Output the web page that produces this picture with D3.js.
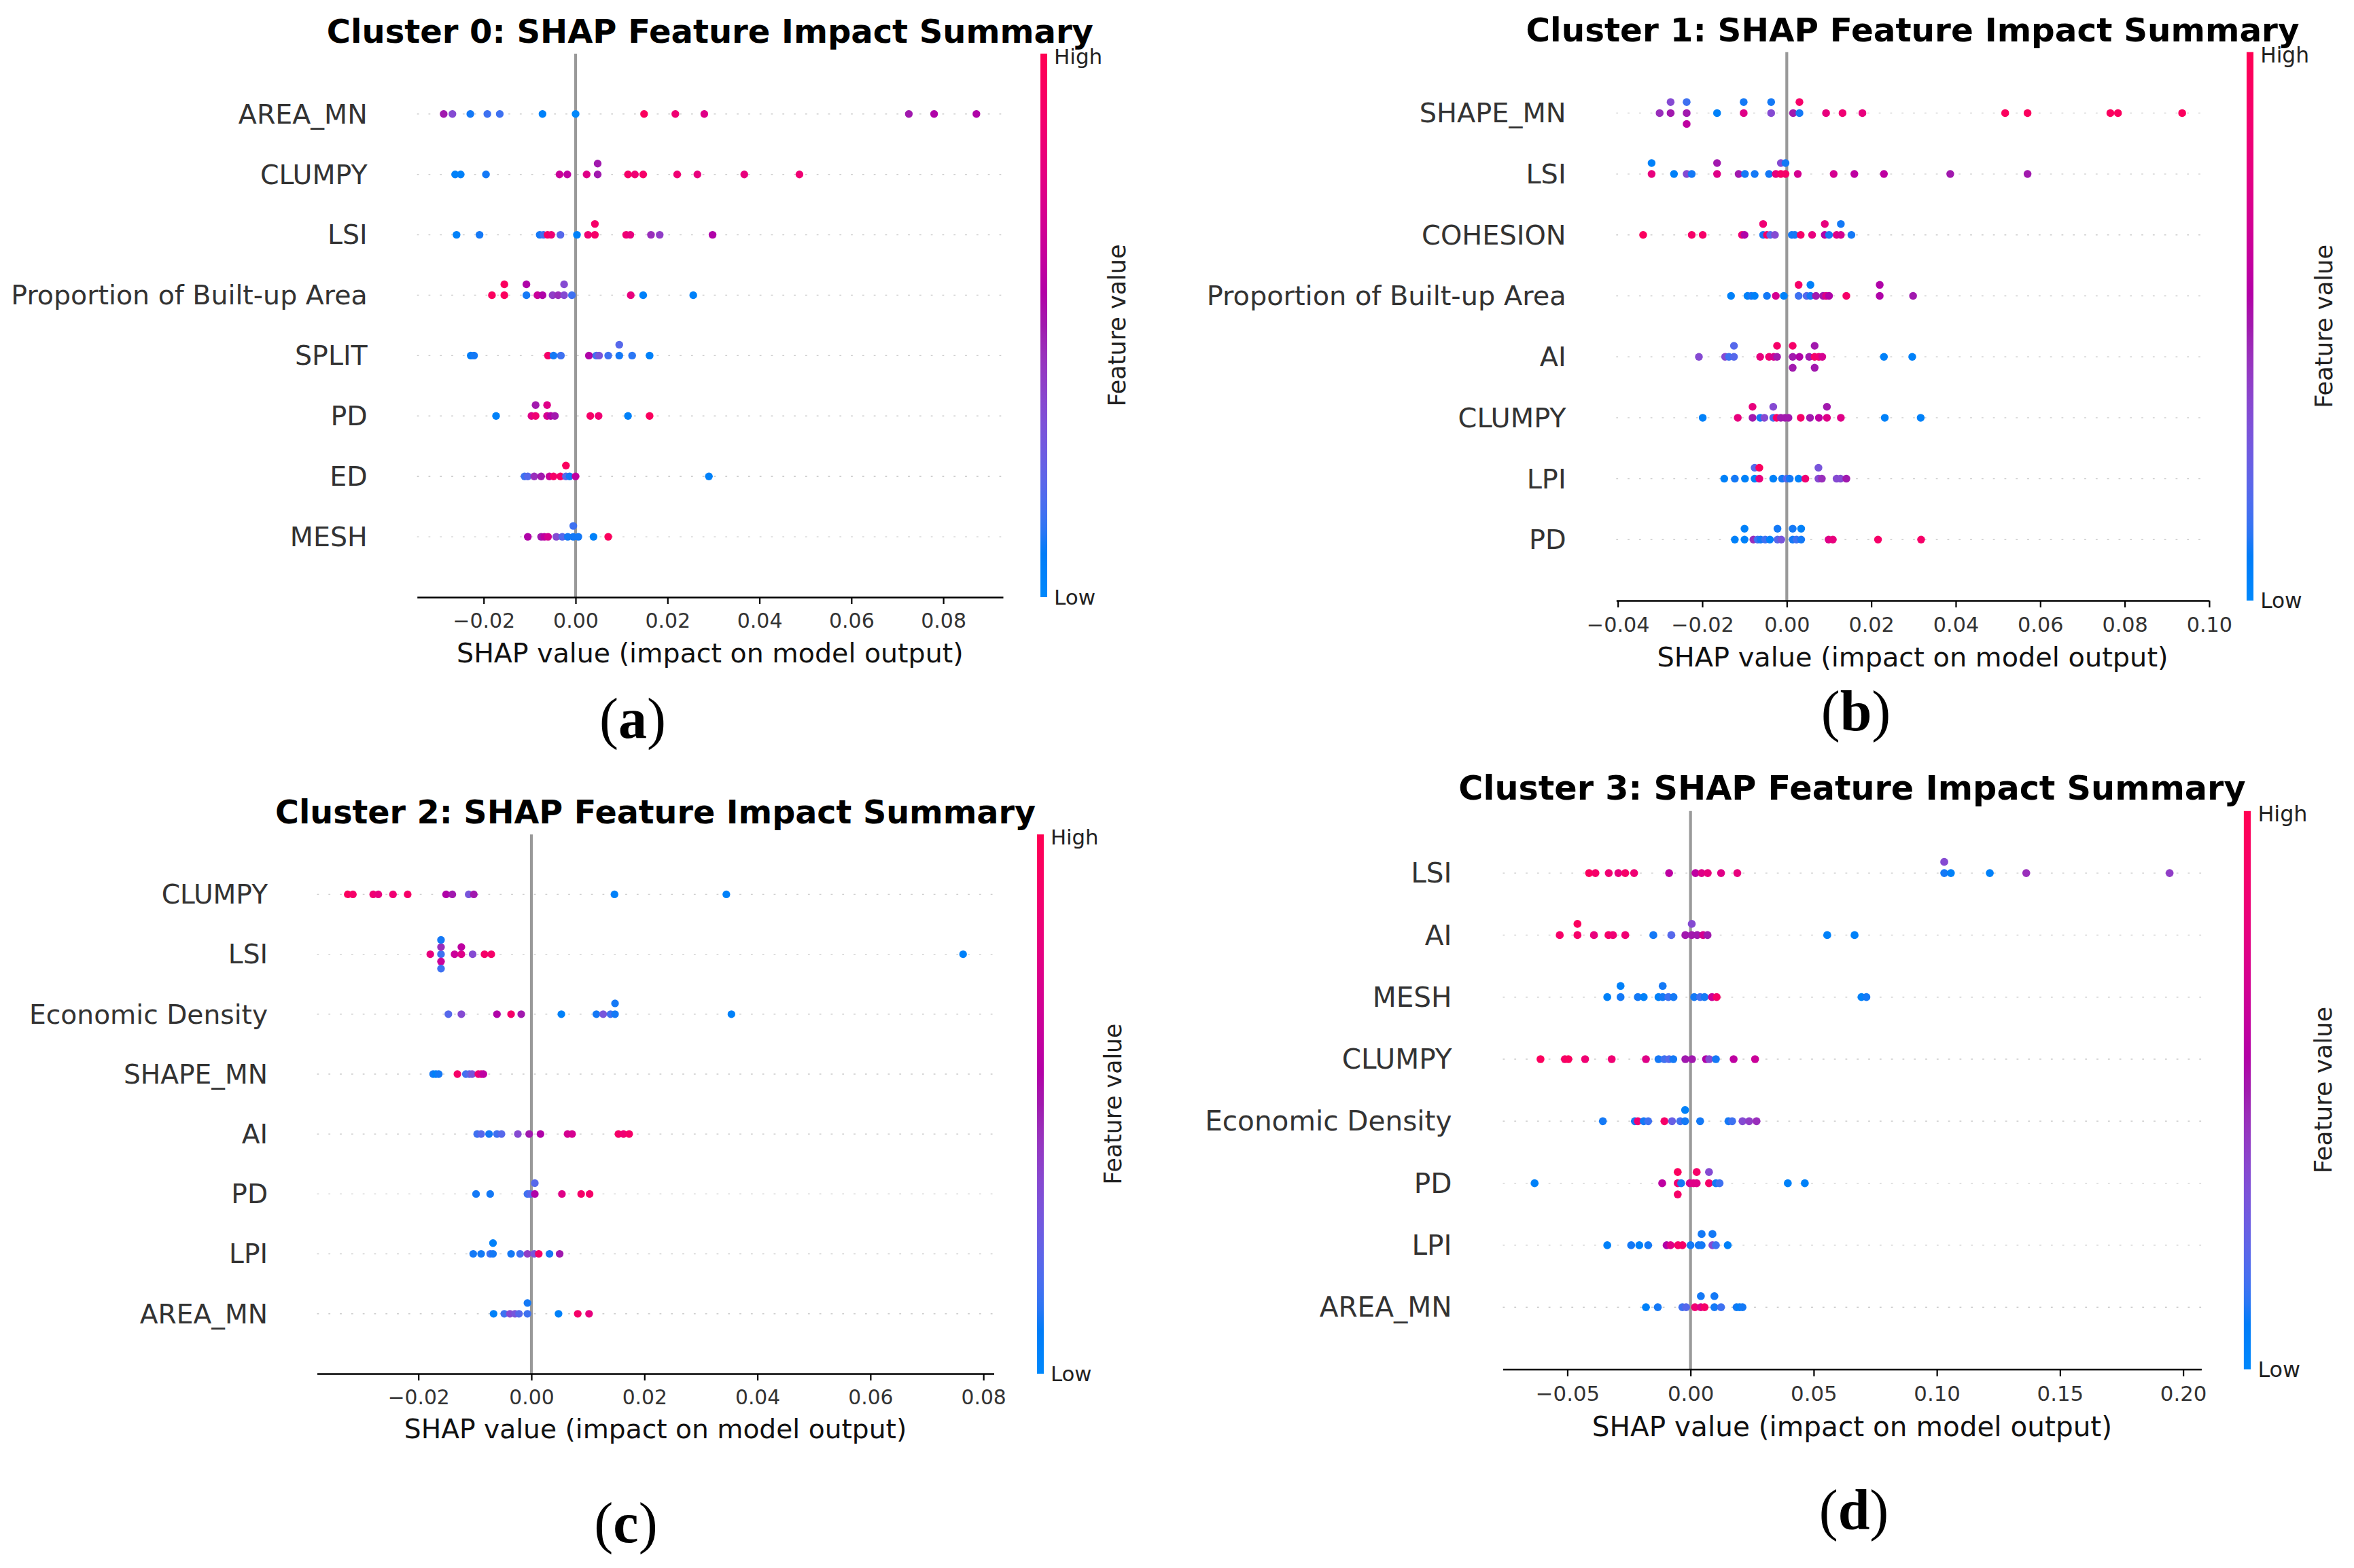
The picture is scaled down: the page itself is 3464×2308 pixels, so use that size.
<!DOCTYPE html>
<html>
<head>
<meta charset="utf-8">
<script src="https://cdn.jsdelivr.net/npm/d3@7"></script>
<style>
  body { margin: 0; background: #fff; }
</style>
</head>
<body>
<div id="chart"></div>
<script>
// size of the whole figure
var svgWidth = 3464;
var svgHeight = 2308;

// ---------------- data ----------------
// shap values per feature, and the matching normalised feature value (0 = low, 1 = high)

// Cluster 0
var c0Features = ["AREA_MN", "CLUMPY", "LSI", "Proportion of Built-up Area", "SPLIT", "PD", "ED", "MESH"];
var c0Shap = [
  [-0.0287, -0.0268, -0.0229, -0.0192, -0.0165, -0.0072, 0.0, 0.0149, 0.0217, 0.028, 0.0725, 0.078, 0.0872],
  [-0.0262, -0.025, -0.0195, -0.0035, -0.0018, 0.0024, 0.0048, 0.0048, 0.0114, 0.0129, 0.0147, 0.0221, 0.0265, 0.0367, 0.0487],
  [-0.0259, -0.0209, -0.0078, -0.007, -0.0061, -0.0053, -0.0033, 0.0003, 0.0027, 0.0042, 0.0042, 0.011, 0.0119, 0.0164, 0.0183, 0.0298],
  [-0.0182, -0.0155, -0.0155, -0.0107, -0.0107, -0.0083, -0.0072, -0.005, -0.0038, -0.0025, -0.0025, -0.0008, 0.012, 0.0147, 0.0256],
  [-0.0228, -0.0221, -0.006, -0.0048, -0.0032, 0.0029, 0.0045, 0.0051, 0.0071, 0.0095, 0.0095, 0.0123, 0.0161],
  [-0.0173, -0.0096, -0.0087, -0.0087, -0.0062, -0.0062, -0.0054, -0.0045, 0.0032, 0.005, 0.0114, 0.0161],
  [-0.0111, -0.0104, -0.009, -0.0075, -0.0057, -0.0048, -0.0033, -0.0021, -0.0021, -0.0013, 0.0, 0.029],
  [-0.0104, -0.0075, -0.0068, -0.006, -0.0042, -0.0029, -0.0017, -0.0005, -0.0005, 0.0006, 0.0039, 0.0071]
];
var c0Color = [
  [0.5, 0.35, 0.1, 0.15, 0.15, 0.05, 0.0, 0.95, 0.85, 0.75, 0.5, 0.55, 0.55],
  [0.05, 0.05, 0.1, 0.65, 0.6, 0.75, 0.5, 0.5, 0.9, 0.85, 0.9, 0.85, 0.8, 0.8, 0.85],
  [0.05, 0.1, 0.1, 0.15, 0.9, 0.85, 0.2, 0.05, 0.85, 0.9, 0.9, 0.85, 0.8, 0.45, 0.4, 0.55],
  [0.95, 0.95, 0.95, 0.1, 0.55, 0.65, 0.55, 0.4, 0.45, 0.35, 0.35, 0.15, 0.8, 0.05, 0.05],
  [0.08, 0.1, 0.9, 0.1, 0.15, 0.55, 0.15, 0.3, 0.15, 0.1, 0.2, 0.12, 0.05],
  [0.05, 0.75, 0.85, 0.5, 0.7, 0.75, 0.55, 0.5, 0.9, 0.85, 0.05, 0.95],
  [0.15, 0.2, 0.45, 0.5, 0.65, 0.9, 0.9, 0.2, 0.95, 0.1, 0.6, 0.05],
  [0.55, 0.5, 0.6, 0.7, 0.35, 0.2, 0.1, 0.1, 0.15, 0.1, 0.05, 0.95]
];
var c0Ticks = [-0.02, 0, 0.02, 0.04, 0.06, 0.08];

// Cluster 1
var c1Features = ["SHAPE_MN", "LSI", "COHESION", "Proportion of Built-up Area", "AI", "CLUMPY", "LPI", "PD"];
var c1Shap = [
  [-0.0301, -0.0275, -0.0275, -0.0237, -0.0237, -0.0237, -0.0165, -0.0102, -0.0102, -0.0037, -0.0037, 0.0015, 0.003, 0.003, 0.0093, 0.0132, 0.0179, 0.0517, 0.057, 0.0766, 0.0784, 0.0936],
  [-0.032, -0.032, -0.0267, -0.0237, -0.0225, -0.0165, -0.0165, -0.0114, -0.0099, -0.0076, -0.0042, -0.0026, -0.0014, -0.0014, -0.0003, -0.0003, 0.0026, 0.0111, 0.016, 0.023, 0.0387, 0.057],
  [-0.034, -0.0225, -0.0199, -0.0106, -0.01, -0.0056, -0.0056, -0.0047, -0.0039, -0.0028, 0.0012, 0.0019, 0.0033, 0.006, 0.009, 0.009, 0.01, 0.0118, 0.0128, 0.0128, 0.0153],
  [-0.0132, -0.0093, -0.0084, -0.0076, -0.0047, -0.0026, -0.0007, 0.0028, 0.0028, 0.0047, 0.0056, 0.0056, 0.0069, 0.0086, 0.0093, 0.01, 0.0141, 0.022, 0.022, 0.0299],
  [-0.0208, -0.0146, -0.0137, -0.0125, -0.0125, -0.0063, -0.0042, -0.0031, -0.0023, -0.0023, 0.0014, 0.0014, 0.0014, 0.003, 0.0053, 0.0066, 0.0066, 0.0066, 0.0076, 0.0084, 0.023, 0.0297],
  [-0.0199, -0.0116, -0.0081, -0.0081, -0.0063, -0.0053, -0.0032, -0.0032, -0.0024, -0.0014, -0.0004, 0.0004, 0.0033, 0.0055, 0.0076, 0.0095, 0.0095, 0.0128, 0.0232, 0.0317],
  [-0.0148, -0.0123, -0.0099, -0.0076, -0.0076, -0.0065, -0.0065, -0.0032, -0.0011, 0.0, 0.0007, 0.0028, 0.0044, 0.0075, 0.0075, 0.0083, 0.0118, 0.0127, 0.0141],
  [-0.0123, -0.01, -0.01, -0.0079, -0.0069, -0.0062, -0.0051, -0.004, -0.0022, -0.0022, -0.0013, 0.0014, 0.0014, 0.0023, 0.0034, 0.0034, 0.0099, 0.0109, 0.0216, 0.0318]
];
var c1Color = [
  [0.45, 0.5, 0.35, 0.5, 0.15, 0.6, 0.05, 0.75, 0.1, 0.35, 0.1, 0.5, 0.1, 0.9, 0.8, 0.85, 0.8, 0.95, 0.95, 0.95, 0.95, 0.95],
  [0.8, 0.05, 0.05, 0.35, 0.1, 0.75, 0.5, 0.5, 0.1, 0.1, 0.1, 0.8, 0.9, 0.35, 0.9, 0.1, 0.7, 0.7, 0.6, 0.6, 0.5, 0.5],
  [0.95, 0.9, 0.9, 0.85, 0.55, 0.1, 0.85, 0.9, 0.2, 0.35, 0.1, 0.1, 0.9, 0.8, 0.55, 0.8, 0.1, 0.75, 0.7, 0.1, 0.1],
  [0.05, 0.05, 0.1, 0.05, 0.1, 0.7, 0.05, 0.15, 0.9, 0.2, 0.1, 0.05, 0.5, 0.5, 0.75, 0.55, 0.9, 0.55, 0.55, 0.5],
  [0.35, 0.35, 0.15, 0.2, 0.2, 0.8, 0.85, 0.7, 0.5, 0.9, 0.5, 0.9, 0.5, 0.55, 0.5, 0.9, 0.5, 0.5, 0.85, 0.7, 0.05, 0.05],
  [0.05, 0.8, 0.5, 0.8, 0.1, 0.35, 0.15, 0.35, 0.9, 0.5, 0.5, 0.5, 0.9, 0.5, 0.6, 0.75, 0.5, 0.75, 0.05, 0.05],
  [0.05, 0.1, 0.05, 0.05, 0.2, 0.8, 0.95, 0.05, 0.1, 0.2, 0.1, 0.05, 0.85, 0.35, 0.3, 0.45, 0.35, 0.35, 0.5],
  [0.05, 0.05, 0.05, 0.45, 0.15, 0.1, 0.15, 0.05, 0.2, 0.1, 0.3, 0.1, 0.1, 0.15, 0.1, 0.05, 0.75, 0.8, 0.9, 0.9]
];
var c1Ticks = [-0.04, -0.02, 0, 0.02, 0.04, 0.06, 0.08, 0.10];

// Cluster 2
var c2Features = ["CLUMPY", "LSI", "Economic Density", "SHAPE_MN", "AI", "PD", "LPI", "AREA_MN"];
var c2Shap = [
  [-0.0325, -0.0316, -0.028, -0.0271, -0.0245, -0.0219, -0.0151, -0.014, -0.0111, -0.0102, 0.0147, 0.0345],
  [-0.0179, -0.016, -0.016, -0.016, -0.016, -0.016, -0.0136, -0.0124, -0.0124, -0.0104, -0.0083, -0.0071, 0.0764],
  [-0.0147, -0.0124, -0.0061, -0.0036, -0.0018, 0.0053, 0.0115, 0.0127, 0.014, 0.0148, 0.0148, 0.0354],
  [-0.0174, -0.0169, -0.0164, -0.0131, -0.0116, -0.011, -0.0105, -0.0094, -0.0089, -0.0085],
  [-0.0096, -0.0089, -0.0075, -0.0061, -0.0053, -0.0024, -0.0004, 0.0016, 0.0064, 0.0072, 0.0154, 0.0163, 0.0173],
  [-0.0098, -0.0073, -0.0007, -0.0002, 0.0006, 0.0006, 0.0054, 0.0088, 0.0103],
  [-0.0103, -0.0089, -0.0073, -0.0068, -0.0068, -0.0036, -0.002, -0.0007, 0.0005, 0.0013, 0.0032, 0.005],
  [-0.0067, -0.0048, -0.0038, -0.0029, -0.0022, -0.0007, -0.0007, 0.0048, 0.0082, 0.0102]
];
var c2Color = [
  [0.95, 0.9, 0.85, 0.8, 0.85, 0.9, 0.55, 0.5, 0.3, 0.5, 0.05, 0.05],
  [0.8, 0.15, 0.45, 0.65, 0.1, 0.15, 0.65, 0.75, 0.6, 0.35, 0.9, 0.9, 0.05],
  [0.2, 0.35, 0.55, 0.9, 0.5, 0.05, 0.1, 0.3, 0.15, 0.1, 0.1, 0.05],
  [0.1, 0.05, 0.1, 0.9, 0.15, 0.2, 0.3, 0.85, 0.75, 0.6],
  [0.15, 0.2, 0.1, 0.15, 0.2, 0.35, 0.5, 0.55, 0.7, 0.7, 0.9, 0.85, 0.9],
  [0.1, 0.1, 0.15, 0.2, 0.55, 0.2, 0.75, 0.9, 0.9],
  [0.1, 0.1, 0.15, 0.1, 0.05, 0.1, 0.15, 0.4, 0.3, 0.9, 0.1, 0.5],
  [0.05, 0.15, 0.35, 0.3, 0.2, 0.15, 0.1, 0.05, 0.9, 0.8]
];
var c2Ticks = [-0.02, 0, 0.02, 0.04, 0.06, 0.08];

// Cluster 3
var c3Features = ["LSI", "AI", "MESH", "CLUMPY", "Economic Density", "PD", "LPI", "AREA_MN"];
var c3Shap = [
  [-0.0412, -0.0386, -0.0332, -0.0293, -0.0265, -0.0229, -0.0087, 0.002, 0.0045, 0.007, 0.0124, 0.019, 0.103, 0.103, 0.1057, 0.1215, 0.1363, 0.1945],
  [-0.0531, -0.0459, -0.0459, -0.0392, -0.0333, -0.0315, -0.0265, -0.0151, -0.0078, -0.0021, 0.0005, 0.0005, 0.0027, 0.0051, 0.0069, 0.0555, 0.0666],
  [-0.0338, -0.0284, -0.0284, -0.0214, -0.019, -0.013, -0.0113, -0.0113, -0.009, -0.0069, 0.0015, 0.0039, 0.0057, 0.0087, 0.0106, 0.0694, 0.0714],
  [-0.0609, -0.051, -0.0496, -0.0428, -0.032, -0.0181, -0.013, -0.0106, -0.0087, -0.007, -0.0021, 0.0006, 0.0063, 0.0076, 0.0103, 0.0175, 0.0262],
  [-0.0356, -0.0226, -0.0214, -0.019, -0.0172, -0.0106, -0.0075, -0.0042, -0.0022, -0.0022, 0.0039, 0.0154, 0.0169, 0.0211, 0.0238, 0.0268],
  [-0.0633, -0.0115, -0.0052, -0.0052, -0.0052, -0.0038, -0.0003, 0.0012, 0.0025, 0.0025, 0.0075, 0.0075, 0.0103, 0.0118, 0.0395, 0.0464],
  [-0.0338, -0.0241, -0.0208, -0.0172, -0.0097, -0.0081, -0.0051, -0.0033, 0.0, 0.0033, 0.0045, 0.0045, 0.0089, 0.0089, 0.0103, 0.0151],
  [-0.0181, -0.0133, -0.0033, -0.0018, 0.0018, 0.0042, 0.0042, 0.0057, 0.0097, 0.0097, 0.0124, 0.0187, 0.0199, 0.0211]
];
var c3Color = [
  [0.95, 0.9, 0.85, 0.8, 0.9, 0.85, 0.6, 0.6, 0.75, 0.8, 0.75, 0.8, 0.1, 0.35, 0.05, 0.05, 0.45, 0.4],
  [0.9, 0.9, 0.95, 0.8, 0.9, 0.85, 0.85, 0.1, 0.2, 0.5, 0.5, 0.35, 0.5, 0.7, 0.5, 0.05, 0.05],
  [0.05, 0.1, 0.05, 0.1, 0.05, 0.05, 0.1, 0.1, 0.15, 0.1, 0.1, 0.15, 0.1, 0.65, 0.9, 0.05, 0.1],
  [0.95, 0.9, 0.95, 0.85, 0.85, 0.75, 0.1, 0.15, 0.2, 0.1, 0.5, 0.5, 0.55, 0.35, 0.1, 0.6, 0.65],
  [0.1, 0.1, 0.85, 0.1, 0.15, 0.9, 0.25, 0.15, 0.1, 0.05, 0.1, 0.1, 0.15, 0.35, 0.4, 0.45],
  [0.05, 0.6, 0.85, 0.95, 0.9, 0.1, 0.7, 0.75, 0.75, 0.9, 0.9, 0.35, 0.1, 0.15, 0.05, 0.05],
  [0.05, 0.1, 0.05, 0.1, 0.55, 0.75, 0.9, 0.9, 0.1, 0.1, 0.1, 0.1, 0.35, 0.1, 0.15, 0.05],
  [0.05, 0.1, 0.15, 0.2, 0.85, 0.75, 0.1, 0.9, 0.1, 0.1, 0.15, 0.1, 0.05, 0.1]
];
var c3Ticks = [-0.05, 0, 0.05, 0.10, 0.15, 0.20];

var titles = ["Cluster 0: SHAP Feature Impact Summary", "Cluster 1: SHAP Feature Impact Summary",
              "Cluster 2: SHAP Feature Impact Summary", "Cluster 3: SHAP Feature Impact Summary"];
var captions = ["a", "b", "c", "d"];

// ---------------- layout of the four sub plots ----------------
var panels = [
  { features: c0Features, shap: c0Shap, color: c0Color, ticks: c0Ticks,
    left: 613.7, right: 1476, bottom: 879, pitch: 88.9, cbX: 1536, capX: 931, capY: 1086 },
  { features: c1Features, shap: c1Shap, color: c1Color, ticks: c1Ticks,
    left: 2378.3, right: 3250.8, bottom: 884, pitch: 89.7, cbX: 3311, capX: 2731, capY: 1075 },
  { features: c2Features, shap: c2Shap, color: c2Color, ticks: c2Ticks,
    left: 466.5, right: 1462.5, bottom: 2022, pitch: 88.2, cbX: 1531, capX: 921, capY: 2270 },
  { features: c3Features, shap: c3Shap, color: c3Color, ticks: c3Ticks,
    left: 2211.5, right: 3239.4, bottom: 2015.5, pitch: 91.3, cbX: 3307, capX: 2728, capY: 2251 }
];

// shap "red_blue" colormap: lch interpolation, lightness dips in the middle
function shapColor(t) {
  var l = t < 0.5 ? 54 - 28 * t : 40 + 28 * (t - 0.5);
  var c = 70 + 20 * t;
  var h = 266.93 + 113.39 * t;
  return d3.hcl(h % 360, c, l).formatHex();
}

// vertical stacking the way shap's beeswarm does it (100 bins, alternate up/down)
function swarmOffsets(vals) {
  var nbins = 100;
  var mn = d3.min(vals), mx = d3.max(vals);
  var quant = vals.map(function(v) { return Math.round(nbins * (v - mn) / (mx - mn + 1e-8)); });
  var inds = d3.range(vals.length).sort(function(a, b) { return quant[a] - quant[b] || a - b; });
  var ys = vals.map(function() { return 0; });
  var layer = 0, last = -1;
  inds.forEach(function(i) {
    if (quant[i] !== last) layer = 0;
    ys[i] = Math.ceil(layer / 2) * ((layer % 2) * 2 - 1);
    layer += 1;
    last = quant[i];
  });
  var k = 0.9 * (0.4 / (d3.max(ys) + 1));
  return ys.map(function(y) { return y * k; });
}

var svg = d3.select("#chart")
  .append("svg")
  .attr("width", svgWidth)
  .attr("height", svgHeight)
  .style("font-family", "'DejaVu Sans', sans-serif");

svg.append("rect").attr("width", svgWidth).attr("height", svgHeight).attr("fill", "#fff");

// gradient for the colour bars
var grad = svg.append("defs").append("linearGradient")
  .attr("id", "cbar")
  .attr("x1", 0).attr("y1", 1).attr("x2", 0).attr("y2", 0);
d3.range(0, 1.0001, 0.02).forEach(function(t) {
  grad.append("stop").attr("offset", t).attr("stop-color", shapColor(t));
});

var fmt = d3.format(".2f");

panels.forEach(function(p, pi) {
  var s = p.pitch / 88.9;
  var n = p.features.length;
  var top = p.bottom - (n + 1) * p.pitch;
  var g = svg.append("g");

  // x scale: matplotlib style 5% margins round the data
  var all = d3.merge(p.shap);
  var lo = d3.min(all), hi = d3.max(all), pad = (hi - lo) * 0.05;
  var x = d3.scaleLinear().domain([lo - pad, hi + pad]).range([p.left, p.right]);

  // y of each feature row (top feature first)
  var y = d3.scalePoint().domain(p.features)
    .range([p.bottom - n * p.pitch, p.bottom - p.pitch]);

  // dotted row guides
  g.selectAll(".guide")
    .data(p.features)
    .enter()
    .append("line")
    .attr("x1", p.left).attr("x2", p.right)
    .attr("y1", function(d) { return y(d); })
    .attr("y2", function(d) { return y(d); })
    .attr("stroke", "#cccccc")
    .attr("stroke-width", 1.4)
    .attr("stroke-dasharray", "2.8,14");

  // zero line
  g.append("line")
    .attr("x1", x(0)).attr("x2", x(0))
    .attr("y1", top).attr("y2", p.bottom)
    .attr("stroke", "#999999")
    .attr("stroke-width", 4.2);

  // dots
  p.features.forEach(function(f, fi) {
    var vals = p.shap[fi];
    var offs = swarmOffsets(vals);
    var pts = vals.map(function(v, i) { return { v: v, c: p.color[fi][i], o: offs[i] }; });
    g.append("g").selectAll("circle")
      .data(pts)
      .enter()
      .append("circle")
      .attr("cx", function(d) { return x(d.v); })
      .attr("cy", function(d) { return y(f) - d.o * p.pitch; })
      .attr("r", 5.7 * s)
      .attr("fill", function(d) { return shapColor(d.c); });
  });

  // feature names
  g.selectAll(".fname")
    .data(p.features)
    .enter()
    .append("text")
    .attr("x", p.left - 73 * s)
    .attr("y", function(d) { return y(d); })
    .attr("dy", "0.35em")
    .attr("text-anchor", "end")
    .attr("font-size", 39.5 * s)
    .attr("fill", "#333")
    .text(function(d) { return d; });

  // x axis
  var axis = g.append("g")
    .attr("transform", "translate(0," + p.bottom + ")")
    .call(d3.axisBottom(x).tickValues(p.ticks).tickFormat(fmt)
      .tickSize(10 * s).tickSizeOuter(0).tickPadding(14 * s));
  axis.select(".domain").attr("stroke", "#000").attr("stroke-width", 2.4);
  axis.selectAll(".tick line").attr("stroke", "#000").attr("stroke-width", 2.2);
  axis.selectAll(".tick text")
    .attr("font-size", 30 * s)
    .attr("font-family", "'DejaVu Sans', sans-serif")
    .attr("fill", "#333");

  g.append("text")
    .attr("x", (p.left + p.right) / 2)
    .attr("y", p.bottom + 96 * s)
    .attr("text-anchor", "middle")
    .attr("font-size", 39.5 * s)
    .attr("fill", "#111")
    .text("SHAP value (impact on model output)");

  // title
  g.append("text")
    .attr("x", (p.left + p.right) / 2)
    .attr("y", top - 16 * s)
    .attr("text-anchor", "middle")
    .attr("font-size", 48 * s)
    .attr("font-weight", "bold")
    .attr("fill", "#000")
    .text(titles[pi]);

  // colour bar
  g.append("rect")
    .attr("x", p.cbX - 5 * s).attr("y", top)
    .attr("width", 10 * s).attr("height", p.bottom - top)
    .attr("fill", "url(#cbar)");
  g.append("text")
    .attr("x", p.cbX + 15 * s).attr("y", top + 4 * s).attr("dy", "0.35em")
    .attr("font-size", 31 * s).attr("fill", "#222")
    .text("High");
  g.append("text")
    .attr("x", p.cbX + 15 * s).attr("y", p.bottom).attr("dy", "0.35em")
    .attr("font-size", 31 * s).attr("fill", "#222")
    .text("Low");
  g.append("text")
    .attr("transform", "translate(" + (p.cbX + 108 * s) + "," + ((top + p.bottom) / 2) + ") rotate(-90)")
    .attr("dy", "0.35em")
    .attr("text-anchor", "middle")
    .attr("font-size", 35 * s)
    .attr("fill", "#222")
    .text("Feature value");

  // caption under the panel: plain parentheses, bold letter
  var cap = svg.append("text")
    .attr("x", p.capX).attr("y", p.capY)
    .attr("text-anchor", "middle")
    .attr("font-family", "'Liberation Serif', serif")
    .attr("font-size", 84)
    .attr("fill", "#000");
  cap.append("tspan").text("(");
  cap.append("tspan").attr("font-weight", "bold").text(captions[pi]);
  cap.append("tspan").text(")");
});
</script>
</body>
</html>
